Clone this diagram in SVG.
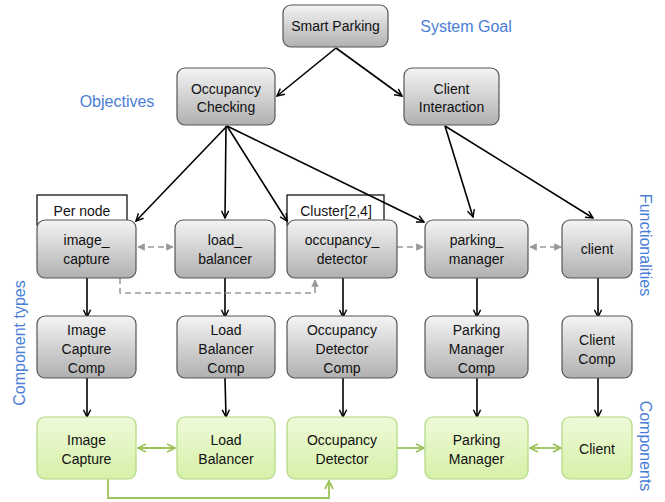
<svg xmlns="http://www.w3.org/2000/svg" width="665" height="502" viewBox="0 0 665 502">
<defs>
<linearGradient id="gg" x1="0" y1="0" x2="0" y2="1">
<stop offset="0" stop-color="#f4f4f4"/><stop offset="1" stop-color="#b0b0b0"/>
</linearGradient>
<linearGradient id="gn" x1="0" y1="0" x2="0" y2="1">
<stop offset="0" stop-color="#eefad8"/><stop offset="1" stop-color="#d6f0a8"/>
</linearGradient>
<marker id="ab" viewBox="0 0 10 10" refX="9" refY="5" markerWidth="9" markerHeight="9" orient="auto-start-reverse" markerUnits="userSpaceOnUse">
<path d="M1,1 L9,5 L1,9" fill="none" stroke="#000" stroke-width="1.6"/>
</marker>
<marker id="ad" viewBox="0 0 10 10" refX="9" refY="5" markerWidth="8" markerHeight="8" orient="auto-start-reverse" markerUnits="userSpaceOnUse">
<path d="M1,1 L9,5 L1,9 Z" fill="#999" stroke="#999"/>
</marker>
<marker id="ag" viewBox="0 0 10 10" refX="9" refY="5" markerWidth="10" markerHeight="10" orient="auto-start-reverse" markerUnits="userSpaceOnUse">
<path d="M1,1 L9,5 L1,9" fill="none" stroke="#9cc45a" stroke-width="1.8"/>
</marker>
</defs>
<style>
text{font-family:"Liberation Sans",Arial,sans-serif;font-size:14px;fill:#111;text-anchor:middle}
.g{fill:url(#gg);stroke:#555;stroke-width:1.2}
.n{fill:url(#gn);stroke:#b0d880;stroke-width:1.2}
.lab{fill:#4a7ed6;font-size:16px}
.tag{fill:#fff;stroke:#000;stroke-width:1.2}
.b{stroke:#000;stroke-width:1.6;fill:none;marker-end:url(#ab)}
.d{stroke:#999;stroke-width:1.6;fill:none;stroke-dasharray:6,4}
.gr{stroke:#9cc45a;stroke-width:1.8;fill:none}
</style>
<rect width="665" height="502" fill="#fff"/>
<g id="labels">
<text class="lab" x="466" y="32">System Goal</text>
<text class="lab" x="117" y="107">Objectives</text>
<text class="lab" transform="translate(640,245) rotate(90)">Functionalities</text>
<text class="lab" transform="translate(25,343) rotate(-90)">Component types</text>
<text class="lab" transform="translate(640,446) rotate(90)">Components</text>
</g>
<g id="tags">
<rect class="tag" x="37" y="195" width="90" height="30"/>
<text x="82" y="216">Per node</text>
<rect class="tag" x="287" y="195" width="97" height="30"/>
<text x="336" y="216">Cluster[2,4]</text>
</g>
<g id="connectors">
<line class="b" x1="336" y1="48" x2="277" y2="96"/>
<line class="b" x1="336" y1="48" x2="402" y2="96"/>
<line class="b" x1="227" y1="126" x2="136" y2="221"/>
<line class="b" x1="226" y1="126" x2="225" y2="218"/>
<line class="b" x1="227" y1="126" x2="287" y2="221"/>
<line class="b" x1="227" y1="126" x2="424" y2="222"/>
<line class="b" x1="445" y1="126" x2="473" y2="217"/>
<line class="b" x1="445" y1="126" x2="593" y2="218"/>
<line class="b" x1="87" y1="278" x2="87" y2="317"/>
<line class="b" x1="225" y1="278" x2="225" y2="317"/>
<line class="b" x1="343" y1="278" x2="343" y2="317"/>
<line class="b" x1="477" y1="278" x2="477" y2="317"/>
<line class="b" x1="598" y1="278" x2="598" y2="317"/>
<line class="b" x1="87" y1="378" x2="87" y2="417"/>
<line class="b" x1="225" y1="378" x2="226" y2="417"/>
<line class="b" x1="343" y1="378" x2="343" y2="417"/>
<line class="b" x1="477" y1="378" x2="477" y2="417"/>
<line class="b" x1="598" y1="378" x2="598" y2="417"/>
<line class="d" x1="138" y1="247" x2="173" y2="247" marker-start="url(#ad)" marker-end="url(#ad)"/>
<line class="d" x1="397" y1="247" x2="423" y2="247" marker-end="url(#ad)"/>
<line class="d" x1="530" y1="247" x2="561" y2="247" marker-start="url(#ad)" marker-end="url(#ad)"/>
<polyline class="d" points="120,278 120,293 315,293 315,280" marker-end="url(#ad)"/>
<line class="gr" x1="138" y1="448" x2="175" y2="448" marker-start="url(#ag)" marker-end="url(#ag)"/>
<line class="gr" x1="397" y1="448" x2="424" y2="448" marker-end="url(#ag)"/>
<line class="gr" x1="530" y1="448" x2="561" y2="448" marker-start="url(#ag)" marker-end="url(#ag)"/>
<polyline class="gr" points="108,479 108,498 329,498 329,481" marker-end="url(#ag)"/>
</g>
<g id="smart_parking"><rect class="g" x="283" y="5" width="105" height="42" rx="8"/><text x="335.5" y="31">Smart Parking</text></g>
<g id="occupancy_checking"><rect class="g" x="177" y="68" width="98" height="57" rx="8"/><text x="226" y="94">Occupancy</text><text x="226" y="112">Checking</text></g>
<g id="client_interaction"><rect class="g" x="404" y="68" width="95" height="57" rx="8"/><text x="451.5" y="94">Client</text><text x="451.5" y="112">Interaction</text></g>
<g id="image_capture"><rect class="g" x="37" y="220" width="99" height="58" rx="8"/><text x="86.5" y="245">image_</text><text x="86.5" y="264">capture</text></g>
<g id="load_balancer"><rect class="g" x="175" y="220" width="100" height="58" rx="8"/><text x="225" y="245">load_</text><text x="225" y="264">balancer</text></g>
<g id="occupancy_detector"><rect class="g" x="287" y="220" width="110" height="58" rx="8"/><text x="342" y="245">occupancy_</text><text x="342" y="264">detector</text></g>
<g id="parking_manager"><rect class="g" x="425" y="220" width="103" height="58" rx="8"/><text x="476.5" y="245">parking_</text><text x="476.5" y="264">manager</text></g>
<g id="client"><rect class="g" x="562" y="220" width="70" height="58" rx="8"/><text x="597" y="254">client</text></g>
<g id="image_capture_comp"><rect class="g" x="37" y="316" width="99" height="62" rx="8"/><text x="86.5" y="335">Image</text><text x="86.5" y="354">Capture</text><text x="86.5" y="373">Comp</text></g>
<g id="load_balancer_comp"><rect class="g" x="177" y="316" width="98" height="62" rx="8"/><text x="226" y="335">Load</text><text x="226" y="354">Balancer</text><text x="226" y="373">Comp</text></g>
<g id="occupancy_detector_comp"><rect class="g" x="287" y="316" width="110" height="62" rx="8"/><text x="342" y="335">Occupancy</text><text x="342" y="354">Detector</text><text x="342" y="373">Comp</text></g>
<g id="parking_manager_comp"><rect class="g" x="425" y="316" width="103" height="62" rx="8"/><text x="476.5" y="335">Parking</text><text x="476.5" y="354">Manager</text><text x="476.5" y="373">Comp</text></g>
<g id="client_comp"><rect class="g" x="562" y="316" width="70" height="62" rx="8"/><text x="597" y="345">Client</text><text x="597" y="364">Comp</text></g>
<g id="image_capture_c"><rect class="n" x="37" y="417" width="99" height="62" rx="8"/><text x="86.5" y="445">Image</text><text x="86.5" y="464">Capture</text></g>
<g id="load_balancer_c"><rect class="n" x="177" y="417" width="98" height="62" rx="8"/><text x="226" y="445">Load</text><text x="226" y="464">Balancer</text></g>
<g id="occupancy_detector_c"><rect class="n" x="287" y="417" width="110" height="62" rx="8"/><text x="342" y="445">Occupancy</text><text x="342" y="464">Detector</text></g>
<g id="parking_manager_c"><rect class="n" x="425" y="417" width="103" height="62" rx="8"/><text x="476.5" y="445">Parking</text><text x="476.5" y="464">Manager</text></g>
<g id="client_c"><rect class="n" x="562" y="417" width="70" height="62" rx="8"/><text x="597" y="454">Client</text></g>
</svg>
